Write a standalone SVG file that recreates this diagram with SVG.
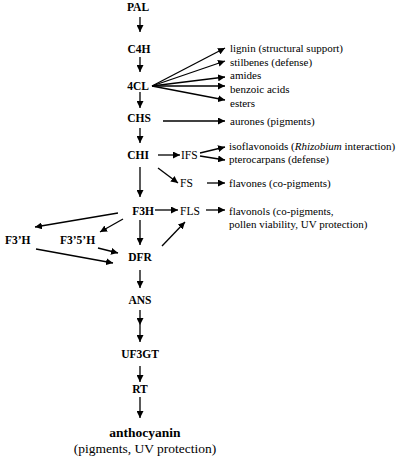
<svg xmlns="http://www.w3.org/2000/svg" width="400" height="462" viewBox="0 0 400 462">
<style>
.b{font-family:"Liberation Serif","Times New Roman","DejaVu Serif",serif;font-weight:bold;font-size:11.5px;fill:#000}
.n{font-family:"Liberation Serif","Times New Roman","DejaVu Serif",serif;font-size:11px;fill:#000}
.s{font-size:11.5px}
.big{font-size:13.5px}
.c line{stroke:#000;stroke-width:1.3;marker-end:url(#ah)}
</style>
<defs>
<marker id="ah" viewBox="0 0 10 10" refX="10" refY="5" markerWidth="7" markerHeight="7" markerUnits="userSpaceOnUse" orient="auto">
<path d="M0,0 L10,5 L0,10 z" fill="#000"/>
</marker>
</defs>
<rect width="400" height="462" fill="#fff"/>
<g class="c" id="connectors">
<line x1="140" y1="17" x2="140" y2="32"/>
<line x1="140" y1="57" x2="140" y2="72"/>
<line x1="152" y1="86" x2="225" y2="48"/>
<line x1="152" y1="86" x2="225" y2="61"/>
<line x1="152" y1="86" x2="225" y2="77"/>
<line x1="152" y1="86" x2="225" y2="86"/>
<line x1="152" y1="86" x2="225" y2="100"/>
<line x1="140" y1="92" x2="140" y2="108"/>
<line x1="163" y1="121" x2="225" y2="121"/>
<line x1="140" y1="128" x2="140" y2="143"/>
<line x1="158" y1="155" x2="180" y2="155"/>
<line x1="200" y1="153" x2="225" y2="147"/>
<line x1="200" y1="156" x2="225" y2="160"/>
<line x1="158" y1="168" x2="178" y2="183"/>
<line x1="207" y1="183" x2="225" y2="183"/>
<line x1="140" y1="167" x2="140" y2="197"/>
<line x1="155" y1="210" x2="178" y2="210"/>
<line x1="206" y1="210" x2="225" y2="210"/>
<line x1="118" y1="213" x2="35" y2="227"/>
<line x1="123" y1="219" x2="100" y2="232"/>
<line x1="140" y1="220" x2="140" y2="245"/>
<line x1="162" y1="246" x2="185" y2="222"/>
<line x1="36" y1="249" x2="113" y2="263"/>
<line x1="98" y1="248" x2="118" y2="253"/>
<line x1="140" y1="270" x2="140" y2="288"/>
<line x1="140" y1="310" x2="140" y2="325"/>
<line x1="140" y1="325" x2="140" y2="342"/>
<line x1="140" y1="366" x2="140" y2="382"/>
<line x1="140" y1="397" x2="140" y2="418"/>
</g>
<g id="PAL"><text class="b" x="138" y="11" text-anchor="middle">PAL</text></g>
<g id="C4H"><text class="b" x="139" y="53" text-anchor="middle">C4H</text></g>
<g id="4CL"><text class="b" x="138" y="90" text-anchor="middle">4CL</text></g>
<g id="CHS"><text class="b" x="139" y="122" text-anchor="middle">CHS</text></g>
<g id="CHI"><text class="b" x="138" y="159" text-anchor="middle">CHI</text></g>
<g id="IFS"><text class="n s" x="181" y="159">IFS</text></g>
<g id="FS"><text class="n s" x="180" y="187">FS</text></g>
<g id="F3H"><text class="b" x="143" y="215" text-anchor="middle">F3H</text></g>
<g id="FLS"><text class="n s" x="180" y="215">FLS</text></g>
<g id="F3pH"><text class="b" x="5" y="244">F3’H</text></g>
<g id="F35H"><text class="b" x="60" y="244">F3’5’H</text></g>
<g id="DFR"><text class="b" x="140" y="261" text-anchor="middle">DFR</text></g>
<g id="ANS"><text class="b" x="140" y="304" text-anchor="middle">ANS</text></g>
<g id="UF3GT"><text class="b" x="140" y="358" text-anchor="middle">UF3GT</text></g>
<g id="RT"><text class="b" x="140" y="393" text-anchor="middle">RT</text></g>
<g id="anthocyanin"><text class="b big" x="145" y="437" text-anchor="middle">anthocyanin</text>
<text class="n big" x="145" y="453" text-anchor="middle">(pigments, UV protection)</text></g>
<g id="lignin"><text class="n" x="230" y="52">lignin (structural support)</text></g>
<g id="stilbenes"><text class="n" x="230" y="66">stilbenes (defense)</text></g>
<g id="amides"><text class="n" x="230" y="79">amides</text></g>
<g id="benzoic"><text class="n" x="230" y="93">benzoic acids</text></g>
<g id="esters"><text class="n" x="230" y="107">esters</text></g>
<g id="aurones"><text class="n" x="230" y="125">aurones (pigments)</text></g>
<g id="isoflavonoids"><text class="n" x="229" y="150">isoflavonoids (<tspan font-style="italic">Rhizobium</tspan> interaction)</text></g>
<g id="pterocarpans"><text class="n" x="229" y="163">pterocarpans (defense)</text></g>
<g id="flavones"><text class="n" x="229" y="187">flavones (co-pigments)</text></g>
<g id="flavonols"><text class="n" x="229" y="215">flavonols (co-pigments,</text>
<text class="n" x="229" y="228">pollen viability, UV protection)</text></g>
</svg>
